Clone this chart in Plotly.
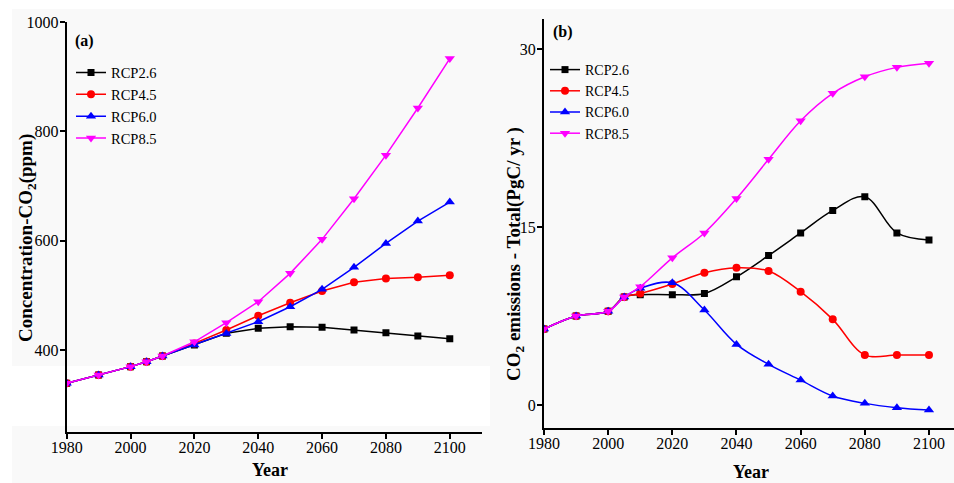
import plotly.graph_objects as go

years = [1980, 1990, 2000, 2005, 2010, 2020, 2030, 2040, 2050, 2060, 2070, 2080, 2090, 2100]
series_names = ["RCP2.6", "RCP4.5", "RCP6.0", "RCP8.5"]

# (a) CO2 concentration (ppm)
conc_rcp26 = [339, 354, 369.5, 378.6, 389, 409, 430.5, 439.7, 442.7, 441.5, 436.6, 431.7, 425.6, 420.7]
conc_rcp45 = [339, 354, 369.5, 378.6, 389, 412, 436.6, 462.8, 486.5, 508, 523.8, 531, 533, 537]
conc_rcp60 = [339, 354, 369.5, 378.6, 389, 409, 430, 451.8, 479.2, 511, 551.3, 595, 636, 670.7]
conc_rcp85 = [339, 354, 369.5, 378.6, 389, 415, 450, 488.4, 540.3, 602.5, 676.8, 756.7, 843, 933.5]

# (b) CO2 emissions total (PgC/yr)
emis_rcp26 = [6.4, 7.5, 7.9, 9.1, 9.3, 9.3, 9.4, 10.8, 12.6, 14.5, 16.4, 17.55, 14.5, 13.9]
emis_rcp45 = [6.4, 7.5, 7.9, 9.1, 9.4, 10.2, 11.15, 11.57, 11.29, 9.55, 7.22, 4.21, 4.21, 4.21]
emis_rcp60 = [6.4, 7.5, 7.9, 9.1, 9.83, 10.3, 8.0, 5.11, 3.43, 2.1, 0.76, 0.14, -0.22, -0.42]
emis_rcp85 = [6.4, 7.5, 7.9, 9.1, 9.97, 12.4, 14.5, 17.4, 20.7, 23.95, 26.26, 27.66, 28.45, 28.8]

x_ticks = [1980, 2000, 2020, 2040, 2060, 2080, 2100]
a_y_ticks = [400, 600, 800, 1000]
b_y_ticks = [0, 15, 30]

colors = ["#000000", "#ff0000", "#0000ff", "#ff00ff"]
symbols = ["square", "circle", "triangle-up", "triangle-down"]
msizes = [7, 8, 9, 9]

FONT = "Liberation Serif, Times New Roman, Times, serif"
W, H = 954, 483

def px_x(p):
    return p / W

def px_y(p):
    return 1 - p / H

fig = go.Figure()

conc = [conc_rcp26, conc_rcp45, conc_rcp60, conc_rcp85]
emis = [emis_rcp26, emis_rcp45, emis_rcp60, emis_rcp85]

for i, name in enumerate(series_names):
    fig.add_trace(go.Scatter(
        x=years, y=conc[i], name=name, mode="lines+markers",
        line=dict(color=colors[i], width=1.5),
        marker=dict(symbol=symbols[i], size=msizes[i], color=colors[i]),
        xaxis="x", yaxis="y", legend="legend", legendgroup="a" + name,
    ))
for i, name in enumerate(series_names):
    fig.add_trace(go.Scatter(
        x=years, y=emis[i], name=name, mode="lines+markers",
        line=dict(color=colors[i], width=1.5, shape="spline", smoothing=1.0),
        marker=dict(symbol=symbols[i], size=msizes[i], color=colors[i]),
        xaxis="x2", yaxis="y2", legend="legend2", legendgroup="b" + name,
    ))

axis_common = dict(
    showline=True, linecolor="black", linewidth=2, showgrid=False, zeroline=False,
    ticks="outside", ticklen=5, tickwidth=1.5, tickcolor="black", automargin=False,
    tickfont=dict(family=FONT, size=16, color="black"),
)
xa = dict(ticklabelstandoff=-5, **axis_common)
ya = dict(ticklabelstandoff=-2, **axis_common)

fig.update_layout(
    width=W, height=H,
    margin=dict(l=0, r=0, t=0, b=0, autoexpand=False),
    paper_bgcolor="#f9f9f9",
    plot_bgcolor="rgba(0,0,0,0)",
    font=dict(family=FONT, color="black"),
    showlegend=True,
    xaxis=dict(domain=[px_x(66.7), px_x(481.7)], range=[1980, 2110], tickvals=x_ticks,
               anchor="y", **xa),
    yaxis=dict(domain=[px_y(431.7), px_y(21.7)], range=[250.4, 1001], tickvals=a_y_ticks,
               anchor="x", **ya),
    xaxis2=dict(domain=[px_x(544), 1.0], range=[1980, 2107.8], tickvals=x_ticks,
                anchor="y2", **xa),
    yaxis2=dict(domain=[px_y(427.7), px_y(19.3)], range=[-1.91, 32.5], tickvals=b_y_ticks,
                anchor="x2", **ya),
    legend=dict(x=px_x(71), y=px_y(56.5), xanchor="left", yanchor="top",
                bgcolor="rgba(0,0,0,0)", font=dict(family=FONT, size=14.5, color="black"),
                tracegroupgap=0, itemwidth=30),
    legend2=dict(x=px_x(545), y=px_y(54), xanchor="left", yanchor="top",
                 bgcolor="rgba(0,0,0,0)", font=dict(family=FONT, size=14, color="black"),
                 tracegroupgap=0, itemwidth=30),
    shapes=[
        dict(type="rect", xref="paper", yref="paper", x0=0, x1=1, y0=px_y(9), y1=1,
             fillcolor="white", line=dict(width=0), layer="below"),
        dict(type="rect", xref="paper", yref="paper", x0=0, x1=px_x(12), y0=0, y1=1,
             fillcolor="white", line=dict(width=0), layer="below"),
        dict(type="rect", xref="paper", yref="paper", x0=0, x1=px_x(490), y0=px_y(426), y1=px_y(366),
             fillcolor="white", line=dict(width=0), layer="below"),
    ],
    annotations=[
        dict(text="<b>(a)</b>", x=px_x(73), y=px_y(41), xref="paper", yref="paper",
             xanchor="left", yanchor="middle", showarrow=False, font=dict(family=FONT, size=16)),
        dict(text="<b>(b)</b>", x=px_x(551), y=px_y(32), xref="paper", yref="paper",
             xanchor="left", yanchor="middle", showarrow=False, font=dict(family=FONT, size=16)),
        dict(text="<b>Year</b>", x=px_x(270), y=px_y(470), xref="paper", yref="paper",
             xanchor="center", yanchor="middle", showarrow=False, font=dict(family=FONT, size=18)),
        dict(text="<b>Year</b>", x=px_x(751), y=px_y(472), xref="paper", yref="paper",
             xanchor="center", yanchor="middle", showarrow=False, font=dict(family=FONT, size=18)),
        dict(text="<b>Concentration-CO<sub>2</sub>(ppm)</b>", x=px_x(27), y=px_y(238),
             xref="paper", yref="paper", xanchor="center", yanchor="middle", textangle=-90,
             showarrow=False, font=dict(family=FONT, size=19)),
        dict(text="<b>CO<sub>2</sub> emissions - Total(PgC/ yr )</b>", x=px_x(515), y=px_y(254),
             xref="paper", yref="paper", xanchor="center", yanchor="middle", textangle=-90,
             showarrow=False, font=dict(family=FONT, size=19)),
    ],
)

fig.write_html("out.html")
